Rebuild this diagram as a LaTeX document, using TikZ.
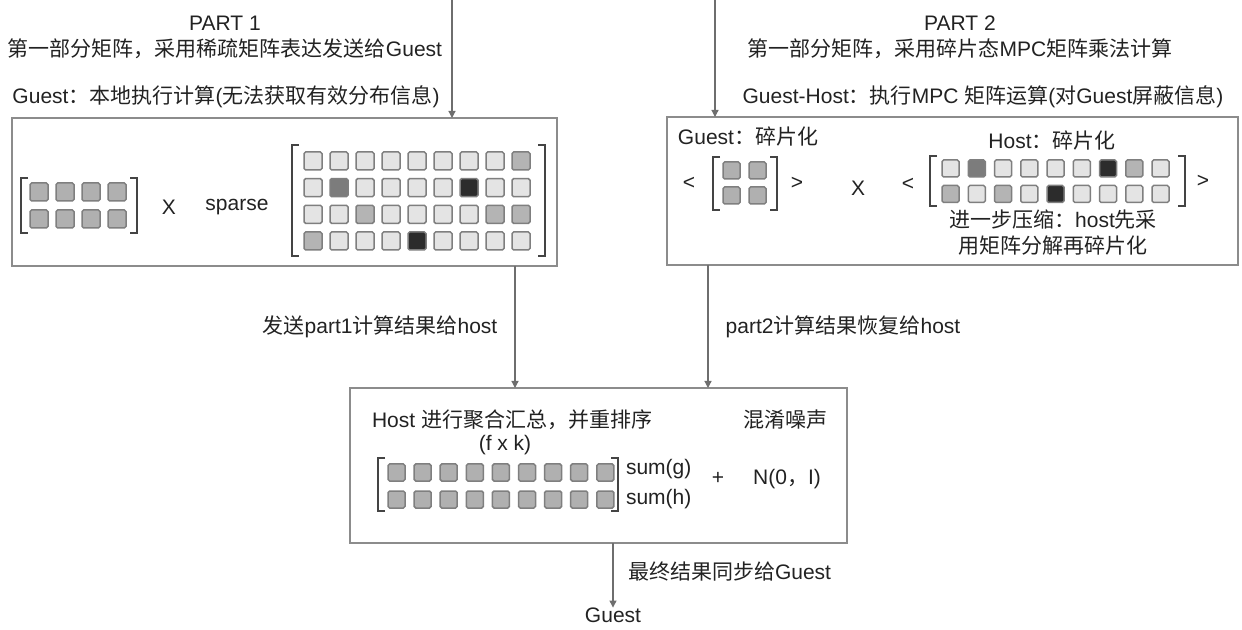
\documentclass[tikz,border=0pt]{standalone}
\usepackage{fontspec}
\setmainfont{Liberation Sans}
\newfontfamily\cjk{Noto Sans CJK SC}
\usetikzlibrary{arrows.meta}
\definecolor{txt}{HTML}{222222}
\definecolor{boxgray}{HTML}{8C8C8C}
\definecolor{linegray}{HTML}{6E6E6E}
\definecolor{cellborder}{HTML}{7F7F7F}
\definecolor{brk}{HTML}{444444}
\definecolor{cL}{HTML}{E4E4E4}
\definecolor{cM}{HTML}{B4B4B4}
\definecolor{cD}{HTML}{7C7C7C}
\definecolor{cB}{HTML}{2C2C2C}
\definecolor{cG}{HTML}{B0B0B0}
\begin{document}
\begin{tikzpicture}[x=0.5pt,y=-0.5pt,
  every node/.style={inner sep=0pt, outer sep=0pt, text=txt, font=\fontsize{10.5}{12}\selectfont},
  panel/.style={draw=boxgray, line width=1pt, fill=white},
  arr/.style={draw=linegray, line width=0.6pt, -{Triangle[length=3.5pt,width=3.5pt]}},
  cellstyle/.style={draw=cellborder, line width=0.75pt, rounded corners=0.8pt},
  bracket/.style={draw=brk, line width=1pt}
]
\useasboundingbox (0,0) rectangle (1242,630);

% panels
\node[panel, minimum width=272.5pt, minimum height=74pt] (p1) at (284.5,192) {};
\node[panel, minimum width=285.5pt, minimum height=74pt] (p2) at (952.5,191) {};
\node[panel, minimum width=248.5pt, minimum height=77.5pt] (p3) at (598.5,465.5) {};

% top texts
\node (t1a) at (225,23) {PART 1};
\node (t1b) at (225,49) {{\cjk 第一部分矩阵，采用稀疏矩阵表达发送给}Guest};
\node (t1c) at (226,97) {Guest{\cjk ：本地执行计算}({\cjk 无法获取有效分布信息})};
\node (t2a) at (960,23) {PART 2};
\node (t2b) at (960,49) {{\cjk 第一部分矩阵，采用碎片态}MPC{\cjk 矩阵乘法计算}};
\node (t2c) at (983,97) {Guest-Host{\cjk ：执行}MPC {\cjk 矩阵运算}({\cjk 对}Guest{\cjk 屏蔽信息})};

% arrows from top
\coordinate (s1) at (452,0);
\coordinate (s2) at (715,0);
\draw[arr] (s1) -- (s1 |- p1.north);
\draw[arr] (s2) -- (s2 |- p2.north);

% ---- left panel contents
\foreach \r in {0,1} \foreach \c in {0,...,3}
  \draw[cellstyle, fill=cG] ({30+26*\c},{183+27*\r}) rectangle ++(18,18);
\draw[bracket] (28,178) -- (21,178) -- (21,233) -- (28,233);
\draw[bracket] (130,178) -- (137,178) -- (137,233) -- (130,233);
\node (x1) at (169,207) {X};
\node (sp) at (237,207) {sparse};
% sparse matrix 4x9
\foreach \c/\col in {0/L,1/L,2/L,3/L,4/L,5/L,6/L,7/L,8/M}
  \draw[cellstyle, fill=c\col] ({304+26*\c},152) rectangle ++(18,18);
\foreach \c/\col in {0/L,1/D,2/L,3/L,4/L,5/L,6/B,7/L,8/L}
  \draw[cellstyle, fill=c\col] ({304+26*\c},178.7) rectangle ++(18,18);
\foreach \c/\col in {0/L,1/L,2/M,3/L,4/L,5/L,6/L,7/M,8/M}
  \draw[cellstyle, fill=c\col] ({304+26*\c},205.3) rectangle ++(18,18);
\foreach \c/\col in {0/M,1/L,2/L,3/L,4/B,5/L,6/L,7/L,8/L}
  \draw[cellstyle, fill=c\col] ({304+26*\c},232) rectangle ++(18,18);
\draw[bracket] (299,145) -- (292,145) -- (292,256) -- (299,256);
\draw[bracket] (538,145) -- (545,145) -- (545,256) -- (538,256);

% ---- right panel contents
\node (gfrag) at (748,137) {Guest{\cjk ：碎片化}};
\node (lt1) at (689,183) {<};
\foreach \r in {0,1} \foreach \c in {0,1}
  \draw[cellstyle, fill=cG] ({723+26*\c},{162+25*\r}) rectangle ++(17,17);
\draw[bracket] (720,157) -- (713,157) -- (713,210) -- (720,210);
\draw[bracket] (770,157) -- (777,157) -- (777,210) -- (770,210);
\node (gt1) at (797,183) {>};
\node (x2) at (858,188) {X};
\node (lt2) at (908,184) {<};
\node (hfrag) at (1052,141) {Host{\cjk ：碎片化}};
\foreach \c/\col in {0/L,1/D,2/L,3/L,4/L,5/L,6/B,7/M,8/L}
  \draw[cellstyle, fill=c\col] ({942+26.25*\c},160) rectangle ++(17,17);
\foreach \c/\col in {0/M,1/L,2/M,3/L,4/B,5/L,6/L,7/L,8/L}
  \draw[cellstyle, fill=c\col] ({942+26.25*\c},185.5) rectangle ++(17,17);
\draw[bracket] (937,156) -- (930,156) -- (930,206) -- (937,206);
\draw[bracket] (1178,156) -- (1185,156) -- (1185,206) -- (1178,206);
\node (gt2) at (1203,181) {>};
\node (comp1) at (1053,220) {{\cjk 进一步压缩：}host{\cjk 先采}};
\node (comp2) at (1053,246) {\cjk 用矩阵分解再碎片化};

% arrows to bottom panel
\coordinate (d1) at (515,0);
\coordinate (d2) at (708,0);
\draw[arr] (d1 |- p1.south) -- (d1 |- p3.north);
\draw[arr] (d2 |- p2.south) -- (d2 |- p3.north);
\node (l1) at (380,327) {{\cjk 发送}part1{\cjk 计算结果给}host};
\node (l2) at (843,327) {part2{\cjk 计算结果恢复给}host};

% ---- bottom panel contents
\node[anchor=west] (agg) at (372,420) {Host {\cjk 进行聚合汇总，并重排序}};
\node (fk) at (505,445) {(f x k)};
\node (noise) at (785,420) {\cjk 混淆噪声};
\foreach \r in {0,1} \foreach \c in {0,...,8}
  \draw[cellstyle, fill=cG] ({388+26.1*\c},{464+27*\r}) rectangle ++(17,17);
\draw[bracket] (385,458) -- (378,458) -- (378,511) -- (385,511);
\draw[bracket] (611,458) -- (618,458) -- (618,511) -- (611,511);
\node[anchor=west] (sg) at (626,469) {sum(g)};
\node[anchor=west] (sh) at (626,499) {sum(h)};
\node (plus) at (718,478) {+};
\node (nrm) at (787,479) {N(0{\cjk ，}I)};

% final arrow
\node (guest) at (613,615) {Guest};
\draw[arr] (guest |- p3.south) -- (guest.north);
\node[anchor=west] (fin) at (628,572) {{\cjk 最终结果同步给}Guest};
\end{tikzpicture}
\end{document}
